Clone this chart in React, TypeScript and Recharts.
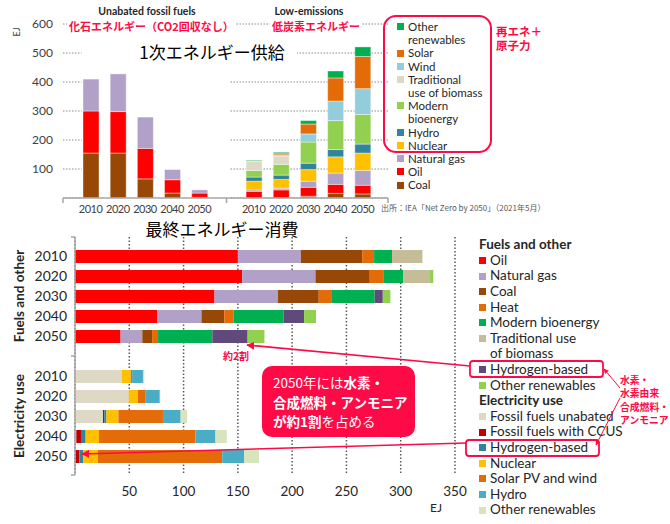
import React from 'react'
import { BarChart, Bar, XAxis, YAxis, CartesianGrid } from 'recharts'

const years = ['2010', '2020', '2030', '2040', '2050']

// 1次エネルギー供給 (EJ) - unabated fossil fuels
const fossilCoal = [155, 155, 66, 17, 2]
const fossilOil = [145, 143, 105, 46, 15]
const fossilGas = [110, 130, 108, 35, 11]

// 1次エネルギー供給 (EJ) - low-emissions
const lowCoal = [0, 0, 6, 16, 14]
const lowOil = [23, 28, 31, 31, 30]
const lowGas = [5, 6, 21, 39, 51]
const lowNuclear = [30, 30, 40, 56, 60]
const lowHydro = [14, 15, 22, 25, 31]
const lowBio = [23, 37, 73, 100, 102]
const lowTrad = [31, 29, 0, 0, 0]
const lowWind = [1, 4, 28, 67, 89]
const lowSolar = [1, 6, 34, 80, 111]
const lowOther = [2, 3, 12, 24, 33]

// 最終エネルギー消費 (EJ) - fuels and other
const fuelOil = [150, 154, 128.5, 76, 42]
const fuelGas = [58, 67.5, 58.5, 40.5, 20]
const fuelCoal = [56.5, 50, 37.5, 21, 9]
const fuelHeat = [11, 13, 11.5, 8.5, 5.5]
const fuelBio = [16.5, 18, 40, 46, 50]
const fuelTrad = [28, 24.5, 0, 0, 0]
const fuelH2 = [0, 0, 7.5, 19, 32.5]
const fuelOther = [0, 3, 7, 11, 15.5]

// 最終エネルギー消費 (EJ) - electricity use
const elecFossil = [43, 49.5, 25.8, 1.2, 0.3]
const elecCcus = [0, 0, 1.2, 4.3, 3.7]
const elecH2 = [0, 0, 2, 4.3, 3.7]
const elecNuclear = [8.3, 8.3, 11, 12.3, 13.5]
const elecSolar = [1.3, 6.8, 41, 88.8, 114.4]
const elecHydro = [10, 13.5, 16.3, 18.5, 20.3]
const elecOther = [1.3, 0.5, 6, 10.4, 13.5]

const supplyTicks = [100, 200, 300, 400, 500, 600]
const consumptionTicks = [50, 100, 150, 200, 250, 300, 350]

const supplySeries = [
  { key: 'coal', name: 'Coal', color: '#974706', fossil: fossilCoal, low: lowCoal },
  { key: 'oil', name: 'Oil', color: '#ff0000', fossil: fossilOil, low: lowOil },
  { key: 'gas', name: 'Natural gas', color: '#b1a0c7', fossil: fossilGas, low: lowGas },
  { key: 'nuclear', name: 'Nuclear', color: '#ffc000', fossil: null, low: lowNuclear },
  { key: 'hydro', name: 'Hydro', color: '#31849b', fossil: null, low: lowHydro },
  { key: 'bio', name: 'Modern\nbioenergy', color: '#92d050', fossil: null, low: lowBio },
  { key: 'trad', name: 'Traditional\nuse of biomass', color: '#ddd9c4', fossil: null, low: lowTrad },
  { key: 'wind', name: 'Wind', color: '#92cddc', fossil: null, low: lowWind },
  { key: 'solar', name: 'Solar', color: '#e36c09', fossil: null, low: lowSolar },
  { key: 'other', name: 'Other\nrenewables', color: '#00b050', fossil: null, low: lowOther },
]

const fuelSeries = [
  { key: 'fOil', name: 'Oil', color: '#ff0000', values: fuelOil },
  { key: 'fGas', name: 'Natural gas', color: '#b1a0c7', values: fuelGas },
  { key: 'fCoal', name: 'Coal', color: '#974706', values: fuelCoal },
  { key: 'fHeat', name: 'Heat', color: '#e36c09', values: fuelHeat },
  { key: 'fBio', name: 'Modern bioenergy', color: '#00b050', values: fuelBio },
  { key: 'fTrad', name: 'Traditional use\nof biomass', color: '#c4bd97', values: fuelTrad },
  { key: 'fH2', name: 'Hydrogen-based', color: '#604a7b', values: fuelH2 },
  { key: 'fOther', name: 'Other renewables', color: '#92d050', values: fuelOther },
]

const elecSeries = [
  { key: 'eFossil', name: 'Fossil fuels unabated', color: '#ddd9c4', values: elecFossil },
  { key: 'eCcus', name: 'Fossil fuels with CCUS', color: '#c00000', values: elecCcus },
  { key: 'eH2', name: 'Hydrogen-based', color: '#31849b', values: elecH2 },
  { key: 'eNuclear', name: 'Nuclear', color: '#ffc000', values: elecNuclear },
  { key: 'eSolar', name: 'Solar PV and wind', color: '#e36c09', values: elecSolar },
  { key: 'eHydro', name: 'Hydro', color: '#4bacc6', values: elecHydro },
  { key: 'eOther', name: 'Other renewables', color: '#d7e4bc', values: elecOther },
]

const RED = '#fe0a46'
const FONT = 'Lato, "Noto Sans CJK JP", sans-serif'
const JP = '"Noto Sans CJK JP", sans-serif'
const SUPPLY_PAD = { left: 14, right: 12 }
const SUPPLY_BAR = 16

const supplyData = [
  ...years.map((year, i) => {
    const row: any = { year }
    supplySeries.forEach((s) => (row[s.key] = s.fossil ? s.fossil[i] : 0))
    return row
  }),
  Object.fromEntries([['year', ''], ...supplySeries.map((s) => [s.key, 0])]),
  ...years.map((year, i) => {
    const row: any = { year }
    supplySeries.forEach((s) => (row[s.key] = s.low[i]))
    return row
  }),
]

const allConsumption = [...fuelSeries, ...elecSeries]
function consumptionRow(year: string, group: typeof fuelSeries | null, i: number) {
  const row: any = { year }
  allConsumption.forEach((s) => (row[s.key] = 0))
  if (group) group.forEach((s) => (row[s.key] = s.values[i]))
  return row
}
const consumptionData = [
  ...years.map((y, i) => consumptionRow(y, fuelSeries, i)),
  consumptionRow('', null, 0),
  ...years.map((y, i) => consumptionRow(y, elecSeries, i)),
]

// gridlines of the upper chart only show left of the first bar and over the low-emissions group
const supplyGridLine = (p: any) => {
  const band = (p.x2 - p.x1 - SUPPLY_PAD.left - SUPPLY_PAD.right) / 11
  const leftEnd = p.x1 + SUPPLY_PAD.left + band * 0.5 - SUPPLY_BAR / 2 - 1
  const rightStart = p.x1 + SUPPLY_PAD.left + band * 5.5 + 4
  const style = { stroke: '#8c8c8c', strokeWidth: 1.2, strokeDasharray: '1.5 1.5' }
  return (
    <g key={p.key}>
      <line x1={p.x1} x2={leftEnd} y1={p.y1} y2={p.y2} {...style} />
      <line x1={rightStart} x2={p.x2} y1={p.y1} y2={p.y2} {...style} />
    </g>
  )
}

const SupplyTick = (p: any) => {
  if (p.payload.value === '') {
    return <line x1={p.x} x2={p.x} y1={p.y} y2={p.y + 5} stroke="#a6a6a6" strokeWidth={1.5} />
  }
  return (
    <text x={p.x} y={p.y + 15} textAnchor="middle" fontSize={11} letterSpacing={-0.5} fill="#404040" fontFamily={FONT}>
      {p.payload.value}
    </text>
  )
}

const ConsumptionTick = (p: any) => {
  if (p.payload.value === '') {
    return <line x1={p.x - 4} x2={p.x} y1={p.y} y2={p.y} stroke="#a6a6a6" strokeWidth={1.5} />
  }
  return (
    <text x={p.x - 8} y={p.y + 5} textAnchor="end" fontSize={14} fill="#262626" fontFamily={FONT}>
      {p.payload.value}
    </text>
  )
}

function Swatch({ color, size }: { color: string; size: number }) {
  return <span style={{ display: 'inline-block', width: size, height: size, background: color, marginRight: 4, flexShrink: 0 }} />
}

function LegendItem({ name, color, size, lineHeight }: { name: string; color: string; size: number; lineHeight: number }) {
  return (
    <div style={{ display: 'flex', alignItems: 'flex-start', whiteSpace: 'pre', lineHeight: `${lineHeight}px` }}>
      <span style={{ display: 'flex', alignItems: 'center', height: lineHeight }}>
        <Swatch color={color} size={size} />
      </span>
      <span>{name}</span>
    </div>
  )
}

export default function App() {
  const textAbs = (extra: React.CSSProperties): React.CSSProperties => ({ position: 'absolute', whiteSpace: 'nowrap', ...extra })
  return (
    <div style={{ position: 'absolute', left: 0, top: 0, width: 670, height: 524, background: '#fff', fontFamily: FONT, overflow: 'hidden' }}>
      {/* 1次エネルギー供給 */}
      <div style={{ position: 'absolute', left: 0, top: 0 }}>
        <BarChart width={400} height={225} data={supplyData} margin={{ top: 24, right: 12, left: 23, bottom: 0 }} barCategoryGap={0}>
          <CartesianGrid vertical={false} horizontal={supplyGridLine} />
          <XAxis
            dataKey="year"
            height={27}
            interval={0}
            padding={SUPPLY_PAD}
            axisLine={{ stroke: '#a6a6a6', strokeWidth: 1.5 }}
            tickLine={false}
            tickSize={0}
            tickMargin={0}
            tick={SupplyTick}
          />
          <YAxis
            domain={[0, 600]}
            ticks={supplyTicks}
            width={40}
            axisLine={false}
            tickLine={false}
            tickSize={0}
            tickMargin={10}
            tick={{ fill: '#404040', fontSize: 12, fontFamily: FONT }}
          />
          {supplySeries.map((s) => (
            <Bar key={s.key} dataKey={s.key} stackId="s" fill={s.color} barSize={SUPPLY_BAR} stroke="#ffffff" strokeWidth={0.4} isAnimationActive={false} />
          ))}
        </BarChart>
      </div>

      {/* 最終エネルギー消費 */}
      <div style={{ position: 'absolute', left: 0, top: 200 }}>
        <BarChart layout="vertical" width={470} height={305} data={consumptionData} margin={{ top: 37, right: 15, left: 35, bottom: 0 }}>
          <CartesianGrid horizontal={false} stroke="#595959" strokeDasharray="1.5 2" strokeWidth={1.5} />
          <XAxis
            type="number"
            domain={[0, 350]}
            ticks={consumptionTicks}
            height={30}
            axisLine={false}
            tickLine={false}
            tickSize={0}
            tickMargin={11}
            tick={{ fill: '#262626', fontSize: 13.5, fontFamily: FONT }}
          />
          <YAxis
            type="category"
            dataKey="year"
            width={40}
            interval={0}
            padding={{ top: 9, bottom: 9 }}
            axisLine={{ stroke: '#a6a6a6', strokeWidth: 1.5 }}
            tickLine={false}
            tickSize={0}
            tickMargin={0}
            tick={ConsumptionTick}
          />
          {allConsumption.map((s) => (
            <Bar key={s.key} dataKey={s.key} stackId="c" fill={s.color} barSize={13} isAnimationActive={false} />
          ))}
        </BarChart>
      </div>

      {/* titles and labels of the upper chart */}
      <div style={textAbs({ left: 95, top: 5, width: 104, textAlign: 'center', fontSize: 10.5, fontWeight: 700, color: '#262626' })}>Unabated fossil fuels</div>
      <div style={textAbs({ left: 268, top: 5, width: 82, textAlign: 'center', fontSize: 10.5, fontWeight: 700, color: '#262626' })}>Low-emissions</div>
      <div style={textAbs({ left: 67, top: 18, padding: '0 2px', background: '#fff', fontFamily: JP, fontSize: 11, fontWeight: 700, color: RED, lineHeight: '16px' })}>化石エネルギー（CO2回収なし）</div>
      <div style={textAbs({ left: 270, top: 18, padding: '0 2px', background: '#fff', fontFamily: JP, fontSize: 11, fontWeight: 700, color: RED, lineHeight: '16px' })}>低炭素エネルギー</div>
      <div style={textAbs({ left: 127, top: 41, width: 170, textAlign: 'center', background: '#fff', fontFamily: JP, fontSize: 17, color: '#000', lineHeight: '22px' })}>1次エネルギー供給</div>
      <div style={textAbs({ left: 381, top: 202, fontFamily: JP, fontSize: 8, color: '#595959' })}>出所：IEA「Net Zero by 2050」（2021年5月）</div>

      {/* upper legend */}
      <div style={{ position: 'absolute', left: 397, top: 20, fontSize: 11.5, color: '#262626' }}>
        {[...supplySeries].reverse().map((s) => (
          <LegendItem key={s.key} name={s.name} color={s.color} size={7} lineHeight={13.2} />
        ))}
      </div>
      <div style={textAbs({ left: 496, top: 24, fontFamily: JP, fontSize: 11.5, fontWeight: 700, color: RED, lineHeight: '14px', whiteSpace: 'pre' })}>{'再エネ＋\n原子力'}</div>

      {/* lower chart labels */}
      <div style={textAbs({ left: 137, top: 218, width: 170, textAlign: 'center', fontFamily: JP, fontSize: 17, color: '#000', lineHeight: '22px' })}>最終エネルギー消費</div>
      <div style={textAbs({ left: 430, top: 500, fontSize: 12, color: '#262626' })}>EJ</div>
      <div style={textAbs({ left: 223, top: 348, fontFamily: JP, fontSize: 10, fontWeight: 700, color: RED })}>約2割</div>

      {/* lower legend */}
      <div style={{ position: 'absolute', left: 479, top: 237.2, fontSize: 13.5, color: '#262626', lineHeight: '15.6px' }}>
        <div style={{ fontWeight: 700, lineHeight: '15.6px' }}>Fuels and other</div>
        {fuelSeries.map((s) => (
          <LegendItem key={s.key} name={s.name} color={s.color} size={7} lineHeight={15.6} />
        ))}
        <div style={{ fontWeight: 700, lineHeight: '15.6px' }}>Electricity use</div>
        {elecSeries.map((s) => (
          <LegendItem key={s.key} name={s.name} color={s.color} size={7} lineHeight={15.6} />
        ))}
      </div>

      {/* callout */}
      <div
        style={{
          position: 'absolute',
          left: 262,
          top: 366,
          width: 153,
          height: 71,
          boxSizing: 'border-box',
          background: RED,
          borderRadius: 10,
          color: '#fff',
          fontFamily: JP,
          fontSize: 13.5,
          lineHeight: '19.5px',
          padding: '7px 0 0 11px',
          whiteSpace: 'nowrap',
        }}
      >
        <div>2050年には<b>水素・</b></div>
        <div><b>合成燃料・アンモニア</b></div>
        <div><b>が約1割</b>を占める</div>
      </div>
      <div style={textAbs({ left: 620, top: 374, fontFamily: JP, fontSize: 9.8, fontWeight: 700, color: RED, lineHeight: '13.3px', whiteSpace: 'pre' })}>
        {'水素・\n水素由来\n合成燃料・\nアンモニア'}
      </div>

      {/* decorations: axis end ticks, highlight boxes, arrows, rotated labels */}
      <svg width={670} height={524} style={{ position: 'absolute', left: 0, top: 0, pointerEvents: 'none' }}>
        <defs>
          <marker id="ah" viewBox="0 0 10 10" refX="9" refY="5" markerWidth="5" markerHeight="5" orient="auto-start-reverse">
            <path d="M0,0 L10,5 L0,10 z" fill={RED} />
          </marker>
        </defs>
        <line x1={63} x2={63} y1={198} y2={203} stroke="#a6a6a6" strokeWidth={1.5} />
        <line x1={388} x2={388} y1={198} y2={203} stroke="#a6a6a6" strokeWidth={1.5} />
        <line x1={71} x2={75} y1={237} y2={237} stroke="#a6a6a6" strokeWidth={1.5} />
        <line x1={71} x2={75} y1={475} y2={475} stroke="#a6a6a6" strokeWidth={1.5} />
        <text x={20} y={32} transform="rotate(-90 20 32)" textAnchor="middle" fontSize={9} fill="#404040" fontFamily={FONT}>EJ</text>
        <text x={19} y={296} transform="rotate(-90 19 296)" textAnchor="middle" dominantBaseline="central" fontSize={13.5} fontWeight={700} fill="#262626" fontFamily={FONT}>Fuels and other</text>
        <text x={19} y={416} transform="rotate(-90 19 416)" textAnchor="middle" dominantBaseline="central" fontSize={13.5} fontWeight={700} fill="#262626" fontFamily={FONT}>Electricity use</text>
        <rect x={384} y={16} width={107} height={136} rx={12} fill="none" stroke={RED} strokeWidth={2} />
        <rect x={470} y={361} width={133} height={16} rx={3} fill="none" stroke={RED} strokeWidth={1.8} />
        <rect x={466} y={440} width={133} height={16} rx={3} fill="none" stroke={RED} strokeWidth={1.8} />
        <line x1={470} y1={366} x2={247} y2={345} stroke={RED} strokeWidth={1.6} markerEnd="url(#ah)" />
        <line x1={466} y1={443} x2={82} y2={454} stroke={RED} strokeWidth={1.6} markerEnd="url(#ah)" />
        <line x1={620} y1={388} x2={604} y2={369} stroke={RED} strokeWidth={1} markerEnd="url(#ah)" />
        <line x1={620} y1={398} x2={596} y2={445} stroke={RED} strokeWidth={1} markerEnd="url(#ah)" />
      </svg>
    </div>
  )
}
